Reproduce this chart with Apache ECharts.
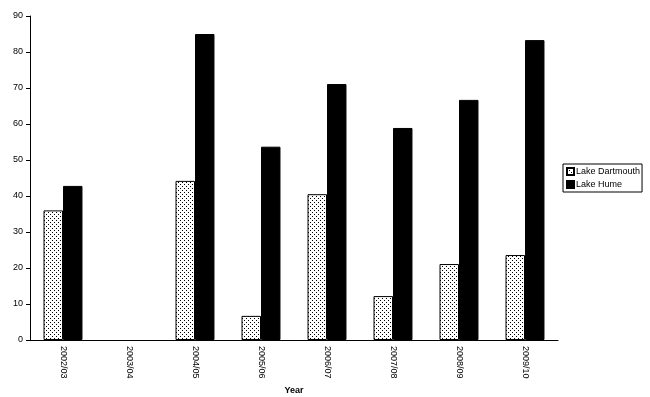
<!DOCTYPE html>
<html>
<head>
<meta charset="utf-8">
<script src="https://cdn.jsdelivr.net/npm/echarts@6/dist/echarts.min.js"></script>
<style>
  html, body { margin: 0; padding: 0; background: #fff; }
  #chart { width: 650px; height: 397px; }
</style>
</head>
<body>
<div id="chart"></div>
<script>
const years = ['2002/03', '2003/04', '2004/05', '2005/06', '2006/07', '2007/08', '2008/09', '2009/10'];
const dartmouth = [36.0, 0, 44.2, 6.7, 40.5, 12.2, 21.1, 23.6];
const hume = [42.8, 0, 85.0, 53.7, 71.1, 58.9, 66.7, 83.3];
const yTicks = { min: 0, max: 90, interval: 10 };

// dotted fill like the old excel pattern
function dotPattern() {
    const c = document.createElement('canvas');
    c.width = 4;
    c.height = 4;
    const ctx = c.getContext('2d');
    ctx.fillStyle = '#fff';
    ctx.fillRect(0, 0, 4, 4);
    ctx.fillStyle = '#000';
    ctx.fillRect(0, 0, 1, 1);
    ctx.fillRect(2, 2, 1, 1);
    return c;
}

// zero bars draw nothing in the original
const noZeroBorder = v => v === 0 ? { value: v, itemStyle: { borderWidth: 0 } } : v;

const font = 'Liberation Sans, Arial, sans-serif';
const chart = echarts.init(document.getElementById('chart'), null, { renderer: 'canvas' });

chart.setOption({
    animation: false,
    textStyle: { fontFamily: font },
    grid: { left: 30, right: 92, top: 16, bottom: 57, outerBoundsMode: 'none', containLabel: false },
    legend: {
        orient: 'vertical',
        left: 563,
        top: 164,
        itemWidth: 7,
        itemHeight: 7,
        itemGap: 4,
        padding: [3, 2, 3, 3],
        borderColor: '#000',
        borderWidth: 1,
        borderRadius: 0,
        icon: 'rect',
        textStyle: { fontSize: 9, color: '#000', padding: [0, 0, 0, -3] },
        data: ['Lake Dartmouth', 'Lake Hume']
    },
    xAxis: {
        type: 'category',
        data: years,
        name: 'Year',
        nameLocation: 'middle',
        nameGap: 45,
        nameTextStyle: { fontSize: 9, fontWeight: 'bold', color: '#000' },
        axisLine: { lineStyle: { color: '#000', width: 1 } },
        axisTick: { length: 4, lineStyle: { color: '#000' } },
        axisLabel: { rotate: -90, fontSize: 9, color: '#000', margin: 6 }
    },
    yAxis: {
        type: 'value',
        min: yTicks.min,
        max: yTicks.max,
        interval: yTicks.interval,
        name: '% reduction',
        nameLocation: 'middle',
        nameRotate: 90,
        nameGap: 23,
        nameTextStyle: { fontSize: 9, color: '#000' },
        splitLine: { show: false },
        axisLine: { show: true, lineStyle: { color: '#000', width: 1 } },
        axisTick: { show: true, length: 4, lineStyle: { color: '#000' } },
        axisLabel: { fontSize: 9, color: '#000', margin: 7 }
    },
    series: [
        {
            name: 'Lake Dartmouth',
            type: 'bar',
            data: dartmouth.map(noZeroBorder),
            barGap: '0%',
            barCategoryGap: '41%',
            itemStyle: {
                color: { image: dotPattern(), repeat: 'repeat' },
                borderColor: '#000',
                borderWidth: 1
            }
        },
        {
            name: 'Lake Hume',
            type: 'bar',
            data: hume.map(noZeroBorder),
            itemStyle: { color: '#000', borderColor: '#000', borderWidth: 1 }
        }
    ]
});
</script>
</body>
</html>
